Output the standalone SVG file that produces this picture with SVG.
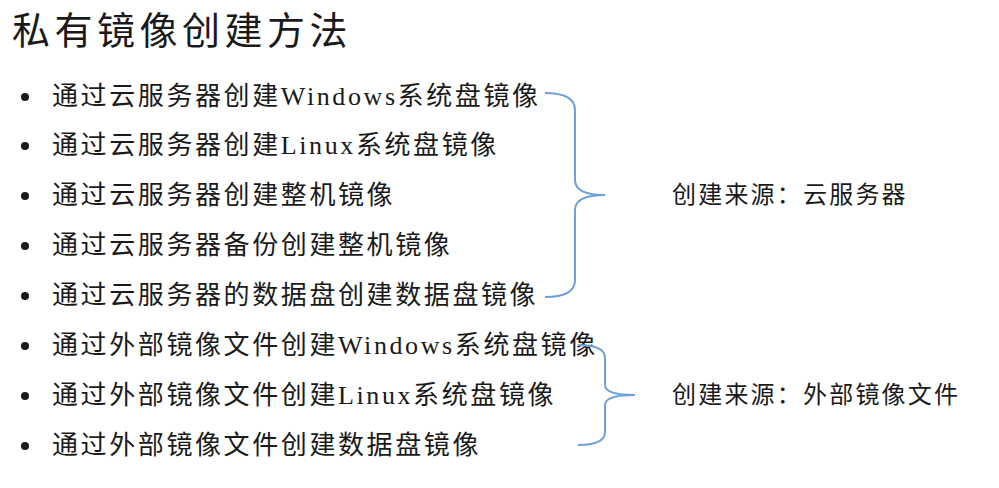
<svg xmlns="http://www.w3.org/2000/svg" width="999" height="488" viewBox="0 0 999 488">
<style>
.t{font-family:"Liberation Serif","Noto Sans CJK SC",sans-serif;font-size:26px;letter-spacing:2.6px;fill:#1a1a1a}
.l{font-family:"Liberation Serif","Noto Sans CJK SC",sans-serif;font-size:24px;letter-spacing:2.2px;fill:#1a1a1a}
.b{fill:#1a1a1a}
.br{fill:none;stroke:#6fa0d8;stroke-width:2}
</style>
<rect width="999" height="488" fill="#fff"/>
<g id="title"><text x="12" y="44" style="font-family:'Noto Sans CJK SC',sans-serif;font-size:38px;letter-spacing:4.5px;fill:#1a1a1a">私有镜像创建方法</text></g>
<g id="items">
<circle class="b" cx="25" cy="97" r="4"/><text class="t" x="52" y="105">通过云服务器创建Windows系统盘镜像</text>
<circle class="b" cx="25" cy="146" r="4"/><text class="t" x="52" y="154">通过云服务器创建Linux系统盘镜像</text>
<circle class="b" cx="25" cy="196" r="4"/><text class="t" x="52" y="204">通过云服务器创建整机镜像</text>
<circle class="b" cx="25" cy="246" r="4"/><text class="t" x="52" y="254">通过云服务器备份创建整机镜像</text>
<circle class="b" cx="25" cy="296" r="4"/><text class="t" x="52" y="304">通过云服务器的数据盘创建数据盘镜像</text>
<circle class="b" cx="25" cy="346" r="4"/><text class="t" x="52" y="354">通过外部镜像文件创建Windows系统盘镜像</text>
<circle class="b" cx="25" cy="396" r="4"/><text class="t" x="52" y="404">通过外部镜像文件创建Linux系统盘镜像</text>
<circle class="b" cx="25" cy="446" r="4"/><text class="t" x="52" y="454">通过外部镜像文件创建数据盘镜像</text>
</g>
<g id="connectors">
<path class="br" d="M545,93 Q575,93 575,110 L575,180 Q575,195 605,195 Q575,195 575,210 L575,280 Q575,297 545,297"/>
<path class="br" d="M578,345 Q605,345 605,358 L605,385 Q605,395 635,395 Q605,395 605,405 L605,432 Q605,445 578,445"/>
</g>
<g id="label1"><text class="l" x="672" y="203">创建来源：云服务器</text></g>
<g id="label2"><text class="l" x="672" y="403">创建来源：外部镜像文件</text></g>
</svg>
